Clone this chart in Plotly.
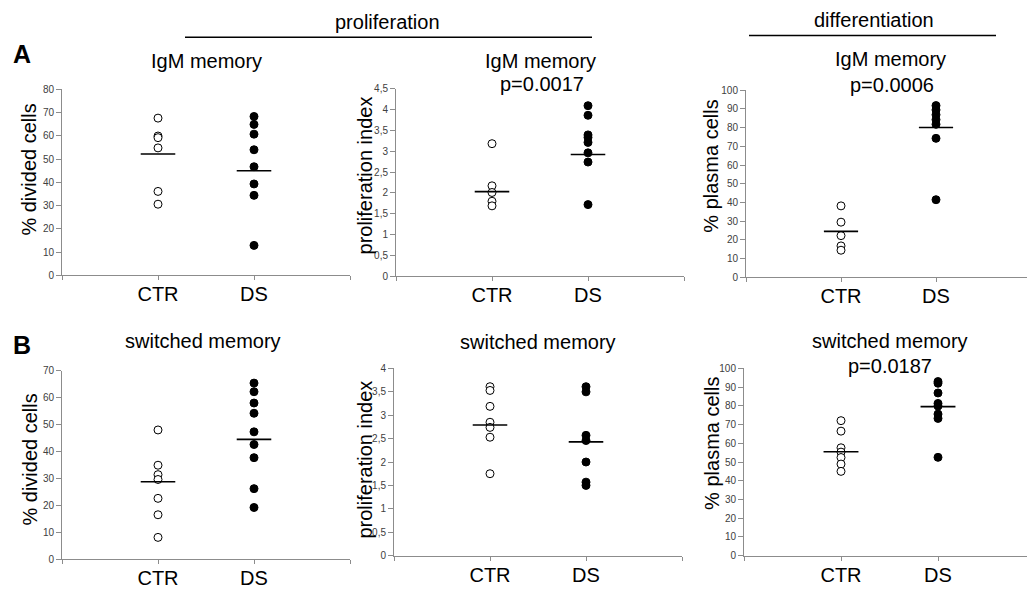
import plotly.graph_objects as go

W, H = 1027, 589

categories = ["CTR", "DS"]

# Panel A1: IgM memory, % divided cells
a1_ctr = [67.6, 59.9, 59.2, 54.8, 36.1, 30.6]
a1_ds = [68.3, 64.9, 60.7, 54.0, 46.7, 39.3, 34.4, 12.9]
a1_mean = [52.2, 45.0]
# Panel A2: IgM memory, proliferation index
a2_ctr = [3.18, 2.17, 2.01, 1.80, 1.69]
a2_ds = [4.09, 3.86, 3.39, 3.33, 3.21, 2.96, 2.74, 1.72]
a2_mean = [2.03, 2.92]
# Panel A3: IgM memory, % plasma cells
a3_ctr = [38.2, 29.5, 22.3, 16.8, 14.5]
a3_ds = [91.8, 89.5, 86.9, 84.3, 81.8, 74.3, 41.5]
a3_mean = [24.6, 80.1]
# Panel B1: switched memory, % divided cells
b1_ctr = [48.0, 34.9, 31.4, 29.6, 22.6, 16.5, 8.1]
b1_ds = [65.4, 62.2, 58.0, 54.2, 47.3, 42.6, 37.7, 26.2, 19.2]
b1_mean = [28.75, 44.5]
# Panel B2: switched memory, proliferation index
b2_ctr = [3.61, 3.53, 3.19, 2.85, 2.74, 2.53, 1.75]
b2_ds = [3.61, 3.50, 2.57, 2.46, 2.00, 1.57, 1.50]
b2_mean = [2.79, 2.43]
# Panel B3: switched memory, % plasma cells
b3_ctr = [72.1, 66.5, 57.6, 55.3, 52.4, 48.9, 45.0]
b3_ds = [93.0, 92.1, 86.9, 81.3, 79.9, 75.6, 73.3, 52.5]
b3_mean = [55.5, 79.6]

y_titles = ["% divided cells", "proliferation index", "% plasma cells"]
y_max = [80, 4.5, 100, 70, 4, 100]
y_dtick = [10, 0.5, 10, 10, 0.5, 10]
subtitles = ["IgM memory", "IgM memory", "IgM memory",
             "switched memory", "switched memory", "switched memory"]
pvalues = ["", "p=0.0017", "p=0.0006", "", "", "p=0.0187"]

panels = [
    (a1_ctr, a1_ds, a1_mean),
    (a2_ctr, a2_ds, a2_mean),
    (a3_ctr, a3_ds, a3_mean),
    (b1_ctr, b1_ds, b1_mean),
    (b2_ctr, b2_ds, b2_mean),
    (b3_ctr, b3_ds, b3_mean),
]

# pixel geometry: (x_left, x_right, px_per_unit, y_bottom, y_top)
geom = [
    (62, 350, 96, 275, 85),
    (396, 684, 96, 276, 84.3),
    (746, 1027, 95, 277, 86),
    (62, 350, 96, 564.7, 372.3),
    (394, 682, 96, 561, 370),
    (744, 1027, 97, 561, 370),
]
ytitle_pos = [(29, 167), (365, 173), (711, 164), (30, 463), (365, 463), (712, 447)]
sub_pos = [(206, 56), (540, 56), (890, 54), (203, 342), (538, 343), (890, 342)]
p_pos = [None, (542, 80), (892, 81), None, None, (890, 367)]

FONT = "Liberation Sans, Arial, sans-serif"
fig = go.Figure()
layout = dict(
    width=W, height=H, margin=dict(l=0, r=0, t=0, b=0),
    paper_bgcolor="white", plot_bgcolor="white", showlegend=False,
    separators=",.", font=dict(family=FONT, color="black"),
    annotations=[], shapes=[],
)

half = 0.18
for i, (ctr, ds, mean) in enumerate(panels):
    n = i + 1
    xa = "x" if n == 1 else f"x{n}"
    ya = "y" if n == 1 else f"y{n}"
    xl, xr, ppu, yb, yt = geom[i]
    xmax = (xr - xl) / ppu
    fig.add_trace(go.Scatter(
        x=[1] * len(ctr), y=ctr, mode="markers", xaxis=xa, yaxis=ya,
        marker=dict(symbol="circle", size=8, color="white",
                    line=dict(color="black", width=1)), cliponaxis=False))
    fig.add_trace(go.Scatter(
        x=[2] * len(ds), y=ds, mode="markers", xaxis=xa, yaxis=ya,
        marker=dict(symbol="circle", size=8, color="black",
                    line=dict(color="black", width=1)), cliponaxis=False))
    for k, m in enumerate(mean):
        fig.add_trace(go.Scatter(
            x=[k + 1 - half, k + 1 + half], y=[m, m], mode="lines",
            xaxis=xa, yaxis=ya, line=dict(color="black", width=1.6)))
    layout[f"xaxis{'' if n == 1 else n}"] = dict(
        domain=[xl / W, min(xr / W, 1.0)], range=[0, xmax],
        anchor=ya, showgrid=False, zeroline=False, showline=True,
        linecolor="#8c8c8c", linewidth=1, ticks="outside", ticklen=4,
        tickcolor="#8c8c8c", tickvals=[0, 1, 2, 3],
        ticktext=["", categories[0], categories[1], ""],
        ticklabelstandoff=-3,
        tickfont=dict(size=20, color="black", family=FONT), fixedrange=True)
    layout[f"yaxis{'' if n == 1 else n}"] = dict(
        domain=[1 - yb / H, 1 - yt / H], range=[0, y_max[i]],
        anchor=xa, showgrid=False, zeroline=False, showline=True,
        linecolor="#8c8c8c", linewidth=1, ticks="outside", ticklen=5,
        tickcolor="#8c8c8c", dtick=y_dtick[i], tick0=0,
        tickfont=dict(size=10, color="#404040", family=FONT), fixedrange=True)
    tx, ty = ytitle_pos[i]
    layout["annotations"].append(dict(
        text=y_titles[i % 3], x=tx / W, y=1 - ty / H, xref="paper", yref="paper",
        textangle=-90, showarrow=False, xanchor="center", yanchor="middle",
        font=dict(size=20, family=FONT, color="black")))
    sx, sy = sub_pos[i]
    layout["annotations"].append(dict(
        text=subtitles[i], x=sx / W, y=1 - sy / H, xref="paper", yref="paper",
        showarrow=False, xanchor="center", yanchor="middle",
        font=dict(size=20, family=FONT, color="black")))
    if pvalues[i]:
        px_, py_ = p_pos[i]
        layout["annotations"].append(dict(
            text=pvalues[i], x=px_ / W, y=1 - py_ / H, xref="paper", yref="paper",
            showarrow=False, xanchor="center", yanchor="middle",
            font=dict(size=20, family=FONT, color="black")))

# group headers
for text, cx, cy, x0, x1, ly in [("proliferation", 387, 16, 185, 592, 32),
                                  ("differentiation", 874, 14, 749, 996, 30)]:
    layout["annotations"].append(dict(
        text=text, x=cx / W, y=1 - cy / H, xref="paper", yref="paper",
        showarrow=False, xanchor="center", yanchor="middle",
        font=dict(size=20, family=FONT, color="black")))
    layout["shapes"].append(dict(
        type="line", xref="paper", yref="paper", x0=x0 / W, x1=x1 / W,
        y0=1 - ly / H, y1=1 - ly / H, line=dict(color="black", width=1.5)))

# panel letters
for text, cx, cy in [("A", 22, 49), ("B", 22, 346)]:
    layout["annotations"].append(dict(
        text=f"<b>{text}</b>", x=cx / W, y=1 - cy / H, xref="paper", yref="paper",
        showarrow=False, xanchor="center", yanchor="middle",
        font=dict(size=25, family=FONT, color="black")))

fig.update_layout(**layout)
fig.write_html("out.html", config={"displayModeBar": False},
               post_script="document.body.style.margin='0px';document.body.style.overflow='hidden';")
